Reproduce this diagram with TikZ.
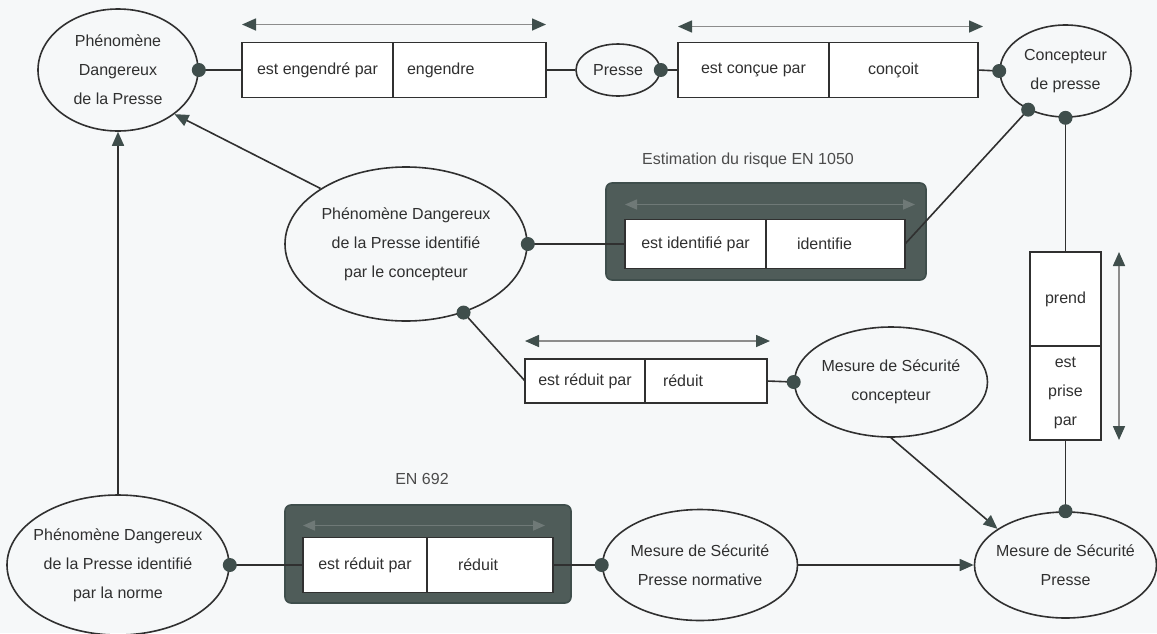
\documentclass[tikz,border=0pt]{standalone}
\usepackage{fontspec}
\setmainfont{Liberation Sans}
\usepackage{xcolor}
\usepackage{tikz}
\usetikzlibrary{shapes.geometric, positioning, arrows.meta}

\definecolor{ink}{HTML}{303030}
\definecolor{slate}{HTML}{3F4E4C}
\definecolor{boxdark}{HTML}{4F5C59}
\definecolor{paper}{HTML}{F6F8F9}

\begin{document}
\begin{tikzpicture}[x=0.5pt,y=-0.5pt,line width=0.8pt,
    font=\fontsize{8}{14.5}\selectfont,text=ink,
    >={Triangle[length=7pt,width=6pt,color=slate]},
    entity/.style={ellipse,draw=ink,inner sep=-5pt,align=center},
    role/.style={rectangle,draw=ink,fill=white,outer sep=0pt,inner ysep=0pt,minimum height=27.5pt},
    rpart/.style={role,align=left},
    link/.style={ink},
    pointer/.style={->,ink},
    twoway/.style={<->,draw=black!45},
    faint/.style={{Triangle[length=6pt,width=5pt]}-{Triangle[length=6pt,width=5pt]},draw=boxdark!82!white},
    knob/.style={fill=slate},
    normbox/.style={rounded corners=3pt,fill=boxdark,draw=slate}]

    % background and the two standards
    \fill[paper] (0,0) rectangle (1157,633);
    \useasboundingbox (0,0) rectangle (1157,633);
    \draw[normbox] (606,183) rectangle (926,280);
    \draw[normbox] (285,505) rectangle (571,603);
    \node[text=black!70] (en1050) at (748,160) {Estimation du risque EN 1050};
    \node[text=black!70] (en692) at (422,479) {EN 692};

    % entities
    \node[entity,minimum width=80pt,minimum height=61pt] (pd) at (118,70) {Phénomène\\Dangereux\\de la Presse};
    \node[entity,minimum width=42pt,minimum height=26pt] (presse) at (618,70) {Presse};
    \node[entity,minimum width=65.5pt,minimum height=46pt] (conc) at (1065.5,71) {Concepteur\\de presse};
    \node[entity,minimum width=121pt,minimum height=77pt] (pdc) at (406,244) {Phénomène Dangereux\\de la Presse identifié\\par le concepteur};
    \node[entity,minimum width=96.5pt,minimum height=55pt] (msc) at (891,382) {Mesure de Sécurité\\concepteur};
    \node[entity,minimum width=111pt,minimum height=70pt] (pdn) at (118,565) {Phénomène Dangereux\\de la Presse identifié\\par la norme};
    \node[entity,minimum width=97.5pt,minimum height=55.5pt] (msn) at (700,565) {Mesure de Sécurité\\Presse normative};
    \node[entity,minimum width=91pt,minimum height=53pt] (msp) at (1065.5,565) {Mesure de Sécurité\\Presse};

    % roles
    \node[role,minimum width=75.5pt,anchor=west] (engp) at (242,70) {est engendré par};
    \node[rpart,text width=62.5pt,inner xsep=7pt,right=0pt of engp] (eng) {engendre};
    \node[role,minimum width=75.5pt,anchor=west] (concp) at (678,70) {est conçue par};
    \node[rpart,text width=35.5pt,inner xsep=19.5pt,right=0pt of concp] (concoit) {conçoit};
    \node[role,minimum width=70.5pt,minimum height=24.5pt,anchor=west] (idp) at (625,244) {est identifié par};
    \node[rpart,minimum height=24.5pt,text width=38.5pt,inner xsep=15.5pt,right=0pt of idp] (idf) {identifie};
    \node[role,minimum width=60pt,minimum height=22pt,anchor=west] (redp) at (525,381) {est réduit par};
    \node[rpart,minimum height=22pt,text width=43pt,inner xsep=9pt,right=0pt of redp] (red) {réduit};
    \node[role,minimum width=62pt,anchor=west] (nredp) at (303,565) {est réduit par};
    \node[rpart,text width=32pt,inner xsep=15.5pt,right=0pt of nredp] (nred) {réduit};
    \node[role,minimum width=35.5pt,minimum height=47pt,anchor=north] (prend) at (1065.5,252) {prend};
    \node[role,minimum width=35.5pt,minimum height=47pt,align=center,below=0pt of prend] (prise) {est\\prise\\par};

    \path[link] (pd.east) edge (engp.west)
          (eng.east) edge (presse.west)
          (presse.east) edge (concp.west)
          (concoit.east) edge (conc.west)
          (conc.226) edge (idf.east)
          (pdc.east) edge (idp.west)
          (pdc.-50) edge (redp.west)
          (red.east) edge (msc.west)
          (conc.south) edge (prend.north)
          (prise.south) edge (msp.north)
          (pdn.east) edge (nredp.west)
          (nred.east) edge (msn.west);

    \path[pointer] (pdc.147) edge (pd.-38)
          (pdn.north) edge (pd.south)
          (msc.south) edge (msp.152)
          (msn.east) edge (msp.west);

    \draw[twoway] ([yshift=9pt]engp.north west) -- ([yshift=9pt]eng.north east);
    \draw[twoway] ([yshift=8pt]concp.north west) -- ([xshift=2.5pt,yshift=8pt]concoit.north east);
    \draw[twoway] ([yshift=9pt]redp.north west) -- ([xshift=1.5pt,yshift=9pt]red.north east);
    \draw[twoway] ([xshift=9pt]prend.north east) -- ([xshift=9pt]prise.south east);
    \draw[faint] ([yshift=7.5pt]idp.north west) -- ([xshift=5pt,yshift=7.5pt]idf.north east);
    \draw[faint] ([yshift=6pt]nredp.north west) -- ([xshift=-4pt,yshift=6pt]nred.north east);

    \foreach \spot in {pd.east,presse.east,conc.west,conc.226,conc.south,pdc.east,pdc.-50,msc.west,msp.north,pdn.east,msn.west}
      \fill[knob] (\spot) circle (3.5pt);
\end{tikzpicture}
\end{document}
